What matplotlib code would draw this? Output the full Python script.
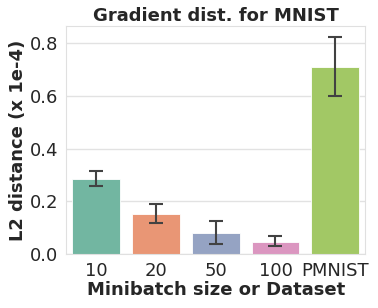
import matplotlib
matplotlib.use("Agg")
import matplotlib.pyplot as plt
import seaborn as sns
import numpy as np

categories = ["10", "20", "50", "100", "PMNIST"]
means = [0.284, 0.151, 0.079, 0.045, 0.709]
err_low = [0.260, 0.117, 0.040, 0.029, 0.600]
err_high = [0.316, 0.192, 0.125, 0.067, 0.824]
yticks = [0.0, 0.2, 0.4, 0.6, 0.8]

sns.set_style("whitegrid")
plt.rcParams['font.family'] = ['DejaVu Sans']

fig, ax = plt.subplots(figsize=(3.78, 3.08), dpi=100)
pal = sns.color_palette("Set2", len(categories))
cols = [sns.desaturate(c, 0.75) for c in pal]
x = np.arange(len(categories))
ax.bar(x, means, width=0.8, color=cols, edgecolor="white", linewidth=0.6, zorder=2)
yerr = np.array([np.array(means) - np.array(err_low), np.array(err_high) - np.array(means)])
ax.errorbar(x, means, yerr=yerr, fmt="none", ecolor="#424242", elinewidth=1.5,
            capsize=5, capthick=1.5, zorder=3)
ax.set_xticks(x)
ax.set_xticklabels(categories)
ax.set_yticks(yticks)
ax.set_xlim(-0.5, 4.5)
ax.set_ylim(0, 0.865)
ax.tick_params(axis="both", labelsize=13, pad=2, colors="#262626")
ax.set_title("Gradient dist. for MNIST", fontsize=13, fontweight="bold", pad=4, color="#262626")
ax.set_xlabel("Minibatch size or Dataset", fontsize=13, fontweight="bold", labelpad=1, color="#262626")
ax.set_ylabel("L2 distance (x 1e-4)", fontsize=13, fontweight="bold", labelpad=2, color="#262626")
ax.grid(axis="x", visible=False)
ax.grid(axis="y", color="#e2e2e2", linewidth=1.0)
for s in ax.spines.values():
    s.set_color("#e0e0e0")
fig.subplots_adjust(left=0.175, right=0.966, top=0.915, bottom=0.175)
fig.savefig("out.png", dpi=100)
